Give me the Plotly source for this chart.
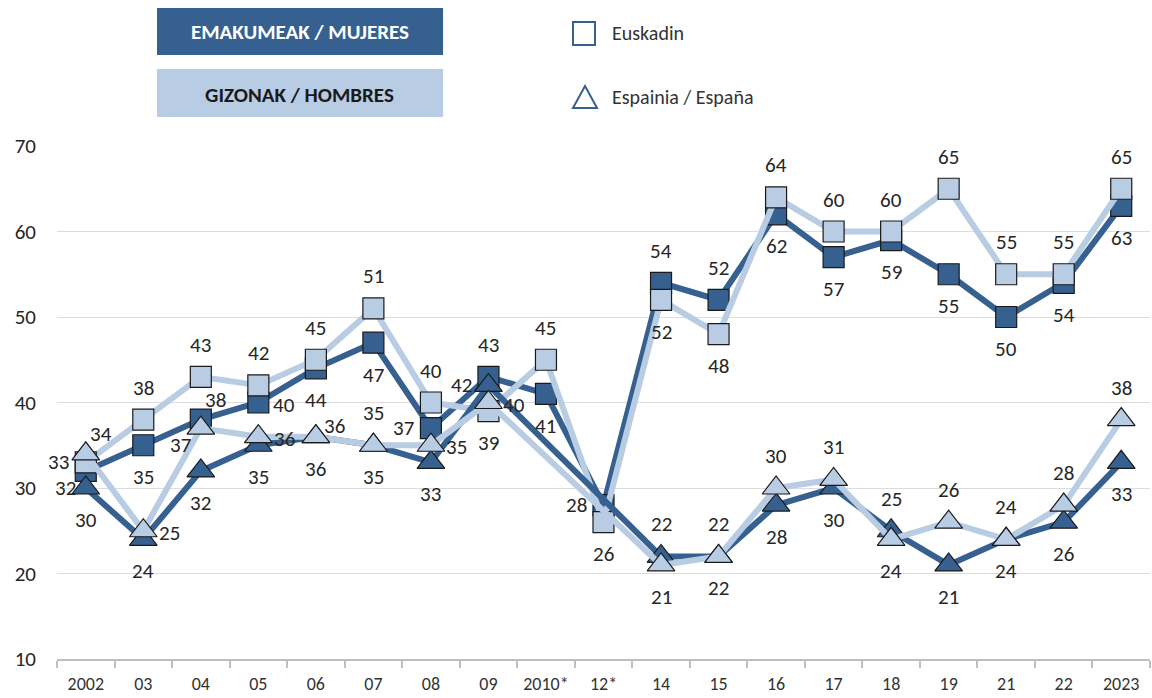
import plotly.graph_objects as go

categories = ["2002", "03", "04", "05", "06", "07", "08", "09", "2010*", "12*",
              "14", "15", "16", "17", "18", "19", "21", "22", "2023"]

euskadi_mujeres = [32, 35, 38, 40, 44, 47, 37, 43, 41, 28, 54, 52, 62, 57, 59, 55, 50, 54, 63]
euskadi_hombres = [33, 38, 43, 42, 45, 51, 40, 39, 45, 26, 52, 48, 64, 60, 60, 65, 55, 55, 65]
espana_mujeres = [30, 24, 32, 35, 36, 35, 33, 42, None, None, 22, 22, 28, 30, 25, 21, 24, 26, 33]
espana_hombres = [34, 25, 37, 36, 36, 35, 35, 40, None, None, 21, 22, 30, 31, 24, 26, 24, 28, 38]

# label placement (style, kept separate from the data)
TC, BC, ML, MR, TR, BL, TRL = "tc", "bc", "ml", "mr", "tr", "bl", "trl"
pos_eus_muj = [BL, BC, TR, MR, BC, BC, ML, TC, BC, ML, TC, TC, BC, BC, BC, BC, BC, BC, BC]
pos_eus_hom = [ML, TC, TC, TC, TC, TC, TC, BC, TC, BC, BC, BC, TC, TC, TC, TC, TC, TC, TC]
pos_esp_muj = [BC, BC, BC, BC, BC, BC, BC, ML, BC, BC, TC, TC, BC, BC, TC, BC, BC, BC, BC]
pos_esp_hom = [TR, MR, BL, MR, TRL, TC, MR, MR, TC, TC, BC, BC, TC, TC, BC, TC, TC, TC, TC]
OFFSETS = {"tc": (0, 32), "bc": (0, -32), "ml": (-27, 0), "mr": (26, -2),
           "tr": (15, 20), "trl": (19, 11), "bl": (-20, -17)}

DARK = "#36608f"
LIGHT = "#b8cce4"
FONT = "Carlito, Lato, sans-serif"
LABEL_FONT = dict(family=FONT, size=21, color="#262626")
idx = list(range(len(categories)))


def series(y, color, symbol, size):
    return go.Scatter(
        x=idx, y=y, mode="lines+markers",
        line=dict(color=color, width=6),
        marker=dict(symbol=symbol, size=size, color=color,
                    line=dict(color="#1a1a1a", width=1.2)),
        connectgaps=True, cliponaxis=False, showlegend=False,
        hoverinfo="y",
    )


fig = go.Figure()
fig.add_trace(series(euskadi_mujeres, DARK, "square", 21))
fig.add_trace(series(euskadi_hombres, LIGHT, "square", 21))
fig.add_trace(series(espana_mujeres, DARK, "triangle-up", 24))
fig.add_trace(series(espana_hombres, LIGHT, "triangle-up", 24))

for ys, poss in [(euskadi_mujeres, pos_eus_muj), (euskadi_hombres, pos_eus_hom),
                 (espana_mujeres, pos_esp_muj), (espana_hombres, pos_esp_hom)]:
    for i, v, p in zip(idx, ys, poss):
        if v is None:
            continue
        dx, dy = OFFSETS[p]
        fig.add_annotation(x=i, y=v, xref="x", yref="y", text=str(v),
                           showarrow=False, xshift=dx, yshift=dy,
                           xanchor="center", yanchor="middle", font=LABEL_FONT)

fig.update_layout(
    width=1152, height=698,
    margin=dict(l=57, r=2, t=146, b=39),
    paper_bgcolor="white", plot_bgcolor="white",
    font=dict(family=FONT, color="#333333"),
    xaxis=dict(
        range=[-0.5, len(categories) - 0.5],
        tickvals=idx, ticktext=categories,
        showgrid=False, showline=True, linecolor="#bfbfbf",
        linewidth=1.5, ticks="", zeroline=False,
        tickfont=dict(family=FONT, size=18, color="#333333"),
        ticklabelstandoff=8, automargin=False, fixedrange=True,
        minor=dict(tickvals=[i - 0.5 for i in idx] + [len(categories) - 0.5],
                   ticks="outside", ticklen=7, tickcolor="#bfbfbf", tickwidth=1.5,
                   showgrid=False),
    ),
    yaxis=dict(
        range=[10, 70], tickvals=[10, 20, 30, 40, 50, 60, 70],
        showgrid=True, gridcolor="#dcdcdc", gridwidth=1, zeroline=False,
        showline=False, ticks="", ticklabelstandoff=20,
        tickfont=dict(family=FONT, size=21, color="#262626"),
        automargin=False, fixedrange=True,
    ),
)

# Legend-like header boxes
fig.add_shape(type="rect", xref="paper", yref="paper",
              x0=0.0915, x1=0.3532, y0=1.1774, y1=1.2690,
              fillcolor=DARK, line=dict(width=0))
fig.add_shape(type="rect", xref="paper", yref="paper",
              x0=0.0915, x1=0.3532, y0=1.0565, y1=1.1501,
              fillcolor=LIGHT, line=dict(width=0))
fig.add_annotation(xref="paper", yref="paper", x=0.2223, y=1.2222,
                   xanchor="center", yanchor="middle",
                   text="<b>EMAKUMEAK / MUJERES</b>", showarrow=False,
                   font=dict(family=FONT, size=21, color="white"))
fig.add_annotation(xref="paper", yref="paper", x=0.2223, y=1.0994,
                   xanchor="center", yanchor="middle",
                   text="<b>GIZONAK / HOMBRES</b>", showarrow=False,
                   font=dict(family=FONT, size=21, color="#1a1a1a"))

# Symbol legend
fig.add_shape(type="rect", xref="paper", yref="paper",
              x0=0.4721, x1=0.4922, y0=1.1969, y1=1.2417,
              fillcolor="white", line=dict(color=DARK, width=2))
fig.add_shape(type="path", xref="paper", yref="paper",
              path="M 0.4831 1.1170 L 0.4721 1.0741 L 0.4941 1.0741 Z",
              fillcolor="white", line=dict(color=DARK, width=2))
fig.add_annotation(xref="paper", yref="paper", x=0.5059, y=1.2203,
                   xanchor="left", yanchor="middle",
                   text="Euskadin", showarrow=False,
                   font=dict(family=FONT, size=20, color="#333333"))
fig.add_annotation(xref="paper", yref="paper", x=0.5059, y=1.0955,
                   xanchor="left", yanchor="middle",
                   text="Espainia / España", showarrow=False,
                   font=dict(family=FONT, size=20, color="#333333"))

fig.write_html("out.html", config={"displayModeBar": False},
               post_script="document.body.style.margin='0';document.body.style.overflow='hidden';")
